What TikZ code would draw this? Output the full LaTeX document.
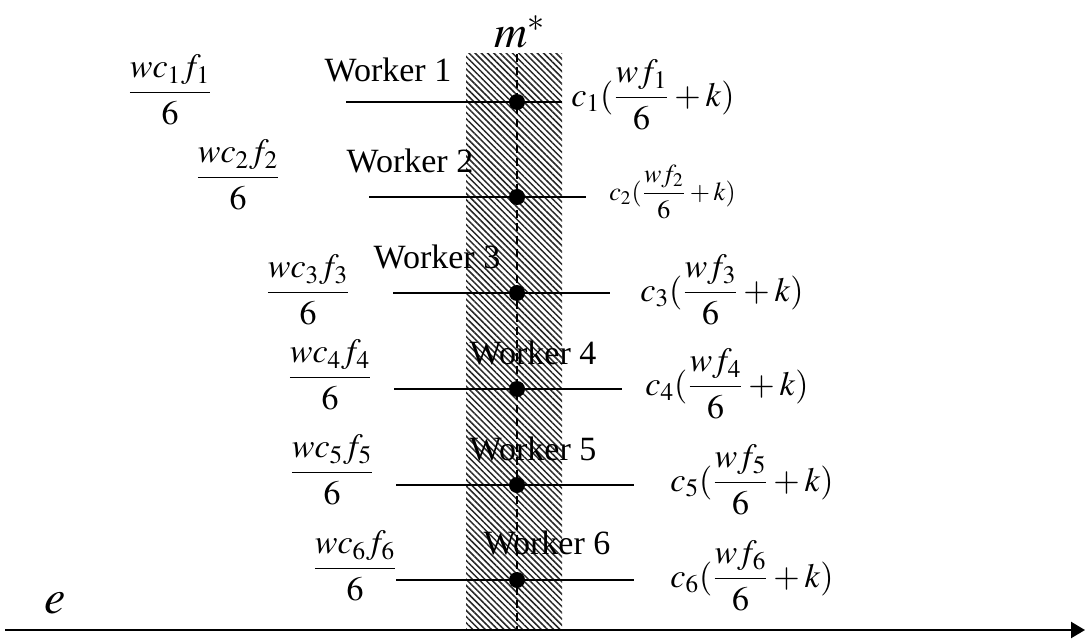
\documentclass[tikz,border=0pt]{standalone}
\usepackage{amsmath}
\usepackage{mathptmx}
\usepackage{fontspec}
\newfontfamily\workerfont{Liberation Serif}
\usepackage{tikz}
\usetikzlibrary{arrows.meta, positioning, calc, patterns.meta}

\begin{document}
\begin{tikzpicture}[
    x=0.5pt, y=-0.5pt,
    lab/.style={inner sep=0pt, font=\fontsize{17}{20}\selectfont},
    wlab/.style={inner sep=0pt, font=\workerfont\fontsize{17}{20}\selectfont},
    small/.style={inner sep=0pt, font=\fontsize{13}{16}\selectfont},
    seg/.style={line width=0.9pt},
    dot/.style={circle, fill=black, inner sep=0pt, minimum size=8pt},
    axis/.style={-{Triangle[length=7pt, width=8pt]}, line width=1.1pt}
]
\useasboundingbox (0,0) rectangle (1085,642);

% hatched band and m*
\fill[pattern={Lines[angle=-45, distance=2.2pt, line width=0.75pt]}, pattern color=black!85] (466,54) rectangle (562,630);
\coordinate (mtop) at (517,54);
\coordinate (mbot) at (517,630);
\draw[dashed, line width=0.7pt, dash pattern=on 4pt off 2.5pt] (mtop) -- (mbot);
\node[inner sep=0pt, anchor=base, font=\fontsize{23}{27}\selectfont] (mstar) at (520,48) {$m^{*}$};

% worker 1
\coordinate (l1) at (346,102); \coordinate (r1) at (562,102);
\node[wlab] (w1) at (388,70) {Worker 1};
\node[lab] (f1) at (170,90) {$\dfrac{wc_1f_1}{6}$};
\node[lab, anchor=west] (g1) at (571,95) {$c_1(\dfrac{wf_1}{6}+k)$};

% worker 2
\coordinate (l2) at (369,197); \coordinate (r2) at (586,197);
\node[wlab] (w2) at (410,161) {Worker 2};
\node[lab] (f2) at (238,175) {$\dfrac{wc_2f_2}{6}$};
\node[small, anchor=west] (g2) at (609,192) {$c_2(\dfrac{wf_2}{6}+k)$};

% worker 3
\coordinate (l3) at (393,293); \coordinate (r3) at (610,293);
\node[wlab] (w3) at (437,257) {Worker 3};
\node[lab] (f3) at (308,290) {$\dfrac{wc_3f_3}{6}$};
\node[lab, anchor=west] (g3) at (640,290) {$c_3(\dfrac{wf_3}{6}+k)$};

% worker 4
\coordinate (l4) at (394,389); \coordinate (r4) at (622,389);
\node[wlab] (w4) at (533,353) {Worker 4};
\node[lab] (f4) at (330,375) {$\dfrac{wc_4f_4}{6}$};
\node[lab, anchor=west] (g4) at (645,384) {$c_4(\dfrac{wf_4}{6}+k)$};

% worker 5
\coordinate (l5) at (396,485); \coordinate (r5) at (634,485);
\node[wlab] (w5) at (533,449) {Worker 5};
\node[lab] (f5) at (332,470) {$\dfrac{wc_5f_5}{6}$};
\node[lab, anchor=west] (g5) at (670,480) {$c_5(\dfrac{wf_5}{6}+k)$};

% worker 6
\coordinate (l6) at (396,580); \coordinate (r6) at (634,580);
\node[wlab] (w6) at (547,543) {Worker 6};
\node[lab] (f6) at (355,566) {$\dfrac{wc_6f_6}{6}$};
\node[lab, anchor=west] (g6) at (670,576) {$c_6(\dfrac{wf_6}{6}+k)$};

\draw[seg] (l1) -- (r1);
\draw[seg] (l2) -- (r2);
\draw[seg] (l3) -- (r3);
\draw[seg] (l4) -- (r4);
\draw[seg] (l5) -- (r5);
\draw[seg] (l6) -- (r6);

\node[dot] (d1) at (517,102) {};
\node[dot] (d2) at (517,197) {};
\node[dot] (d3) at (517,293) {};
\node[dot] (d4) at (517,389) {};
\node[dot] (d5) at (517,485) {};
\node[dot] (d6) at (517,580) {};

% effort axis
\coordinate (ax0) at (5,630);
\coordinate (ax1) at (1085,630);
\draw[axis] (ax0) -- (ax1);
\node[inner sep=0pt, font=\fontsize{24}{28}\selectfont] (e) at (55,603) {$e$};
\end{tikzpicture}
\end{document}
